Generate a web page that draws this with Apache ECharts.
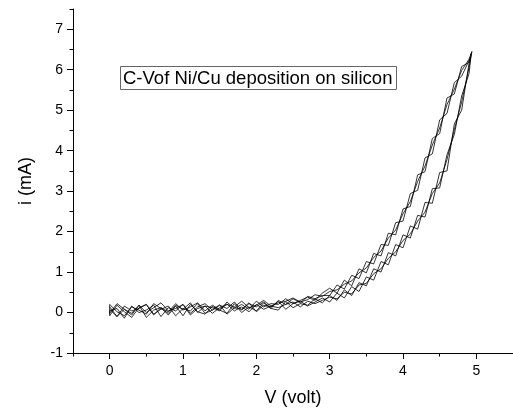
<!DOCTYPE html>
<html>
<head>
<meta charset="utf-8">
<script src="https://cdn.jsdelivr.net/npm/echarts@6/dist/echarts.min.js"></script>
<style>
html,body{margin:0;padding:0;background:#fff;}
#chart{width:513px;height:412px;}
</style>
</head>
<body>
<div id="chart"></div>
<script>
// voltage grid for each sweep (volt)
var volts = [0.0,0.1,0.2,0.3,0.4,0.5,0.6,0.7,0.8,0.9,
             1.0,1.1,1.2,1.3,1.4,1.5,1.6,1.7,1.8,1.9,
             2.0,2.1,2.2,2.3,2.4,2.5,2.6,2.7,2.8,2.9,
             3.0,3.1,3.2,3.3,3.4,3.5,3.6,3.7,3.8,3.9,
             4.0,4.1,4.2,4.3,4.4,4.5,4.6,4.7,4.8,4.9];

// forward sweeps (lower branch), mA
var lowA = [0.14,-0.10,0.08,-0.02,0.18,-0.12,0.06,0.12,-0.06,0.16,
            -0.08,0.20,0.02,-0.04,0.15,0.06,-0.02,0.22,0.00,0.14,
            0.04,0.24,0.10,0.06,0.27,0.12,0.22,0.18,0.34,0.24,
            0.42,0.30,0.56,0.42,0.74,0.66,1.08,1.00,1.48,1.40,
            1.92,1.84,2.40,2.36,3.06,3.08,3.90,4.40,5.35,5.90];
var lowB = [-0.08,0.18,0.02,-0.12,0.12,0.20,-0.04,0.08,0.16,-0.08,
            0.10,0.04,0.22,-0.02,0.06,0.19,-0.04,0.12,0.08,0.24,
            0.02,0.18,0.14,0.28,0.08,0.22,0.28,0.16,0.26,0.36,
            0.26,0.48,0.36,0.64,0.52,0.88,0.80,1.26,1.18,1.68,
            1.60,2.14,2.06,2.72,2.70,3.46,3.50,4.66,5.00,6.15];
var lowC = [0.04,0.10,-0.14,0.16,0.00,0.06,0.18,-0.10,0.12,0.04,
            0.20,-0.06,0.10,0.16,-0.02,0.12,0.21,0.04,0.14,0.02,
            0.20,0.08,0.16,0.12,0.20,0.26,0.14,0.28,0.22,0.30,
            0.38,0.34,0.50,0.46,0.68,0.72,0.96,1.08,1.34,1.50,
            1.78,1.94,2.26,2.48,2.94,3.20,3.78,4.52,5.20,6.05];

// return sweeps (upper branch), listed by rising voltage, mA
var upA = [0.20,0.02,-0.08,0.14,0.06,-0.04,0.22,0.10,-0.02,0.18,
           0.08,0.24,0.00,0.16,0.12,0.04,0.26,0.10,0.20,0.08,
           0.28,0.14,0.22,0.20,0.34,0.22,0.30,0.38,0.30,0.48,
           0.60,0.48,0.80,0.66,1.08,0.98,1.46,1.40,1.96,1.92,
           2.56,2.62,3.40,3.48,4.30,4.42,5.30,5.40,6.08,6.18];
var upB = [-0.02,0.22,0.08,-0.06,0.18,0.00,0.12,0.24,0.04,0.10,
           0.20,-0.02,0.14,0.22,0.06,0.18,0.10,0.26,0.06,0.22,
           0.14,0.26,0.10,0.30,0.20,0.34,0.24,0.40,0.34,0.42,
           0.42,0.68,0.58,0.92,0.84,1.26,1.20,1.68,1.66,2.22,
           2.26,2.94,3.02,3.82,3.92,4.76,4.92,5.68,5.84,6.34];
var upC = [0.08,-0.10,0.16,0.04,0.10,0.20,-0.06,0.12,0.02,0.22,
           0.06,0.14,0.24,0.04,0.18,0.08,0.20,0.14,0.28,0.12,
           0.18,0.30,0.16,0.24,0.28,0.36,0.26,0.32,0.44,0.40,
           0.52,0.56,0.70,0.78,0.98,1.10,1.36,1.52,1.84,2.04,
           2.44,2.74,3.24,3.62,4.14,4.56,5.14,5.52,5.98,6.26];

// turning points at top of each cycle
var peakV = [4.93,4.92,4.94];
var peakI = [6.40,6.30,6.45];

var xMajor = [0,1,2,3,4,5];
var xMinor = [-0.5,0.5,1.5,2.5,3.5,4.5,5.5];
var yMajor = [-1,0,1,2,3,4,5,6,7];
var yMinor = [-0.5,0.5,1.5,2.5,3.5,4.5,5.5,6.5,7.5];

// one closed loop: forward up, then back down
function buildLoop(low,up,k){
    var pts=[];
    for(var i=0;i<volts.length;i++){
        pts.push([volts[i],low[i]]);
    }
    pts.push([peakV[k],peakI[k]]);
    for(var j=volts.length-1;j>=0;j--){
        pts.push([volts[j],up[j]]);
    }
    return pts;
}

var loopData = buildLoop(lowA,upA,0)
    .concat(buildLoop(lowB,upB,1))
    .concat(buildLoop(lowC,upC,2));

var font = 'Liberation Sans, Arial, sans-serif';
var chart = echarts.init(document.getElementById('chart'));
var option = {
    backgroundColor:'#fff',
    animation:false,
    title:{
        text:'C-Vof Ni/Cu deposition on silicon',
        left:120,
        top:66,
        padding:[3,4,2,3],
        borderColor:'#666',
        borderWidth:1,
        textStyle:{fontFamily:font,fontSize:18.5,fontWeight:'normal',color:'#000',lineHeight:19}
    },
    grid:{left:73,right:0,top:9,bottom:56,containLabel:false},
    xAxis:[{
        type:'value',
        min:-0.5,max:5.5,
        position:'bottom',
        name:'V (volt)',
        nameLocation:'middle',
        nameGap:36,
        nameTextStyle:{fontFamily:font,fontSize:18,color:'#000'},
        splitLine:{show:false},
        axisLine:{show:true,onZero:false,lineStyle:{color:'#000',width:1}},
        axisTick:{show:true,length:6,customValues:xMajor,lineStyle:{color:'#000'}},
        axisLabel:{customValues:xMajor,margin:11,fontFamily:font,fontSize:14,color:'#000'}
    },{
        type:'value',
        min:-0.5,max:5.5,
        position:'bottom',
        splitLine:{show:false},
        axisLine:{show:false,onZero:false},
        axisTick:{show:true,length:3.5,customValues:xMinor,lineStyle:{color:'#000'}},
        axisLabel:{show:false}
    }],
    yAxis:[{
        type:'value',
        min:-1,max:7.5,
        position:'left',
        name:'i (mA)',
        nameLocation:'middle',
        nameGap:38,
        nameTextStyle:{fontFamily:font,fontSize:18,color:'#000'},
        splitLine:{show:false},
        axisLine:{show:true,onZero:false,lineStyle:{color:'#000',width:1}},
        axisTick:{show:true,length:6,customValues:yMajor,lineStyle:{color:'#000'}},
        axisLabel:{customValues:yMajor,margin:10,fontFamily:font,fontSize:14,color:'#000'}
    },{
        type:'value',
        min:-1,max:7.5,
        position:'left',
        splitLine:{show:false},
        axisLine:{show:false,onZero:false},
        axisTick:{show:true,length:3.5,customValues:yMinor,lineStyle:{color:'#000'}},
        axisLabel:{show:false}
    }],
    series:[{
        type:'line',
        xAxisIndex:0,
        yAxisIndex:0,
        data:loopData,
        showSymbol:false,
        symbol:'none',
        lineStyle:{color:'#000',width:0.8},
        emphasis:{disabled:true}
    }]
};
chart.setOption(option);
</script>
</body>
</html>
